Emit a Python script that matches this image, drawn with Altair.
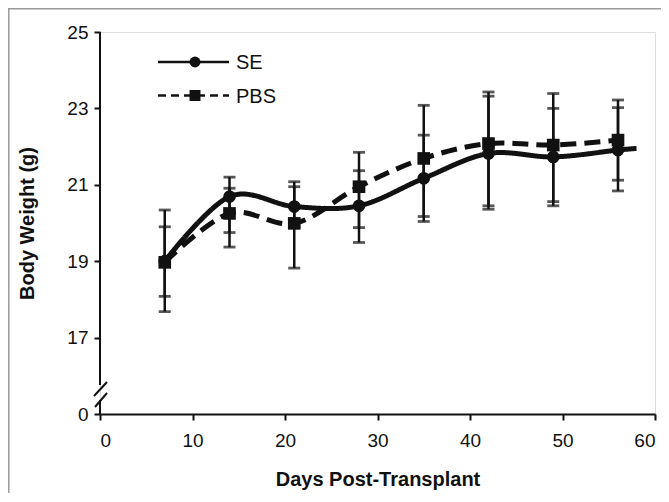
import altair as alt
import pandas as pd

# ---- data ----
days = [7, 14, 21, 28, 35, 42, 49, 56]
series = ["SE", "PBS"]
se_mean = [19.00, 20.69, 20.43, 20.45, 21.17, 21.82, 21.73, 21.91]
pbs_mean = [18.97, 20.25, 19.99, 20.95, 21.69, 22.08, 22.04, 22.17]
se_lo = [17.68, 19.75, 19.90, 19.49, 20.04, 20.36, 20.45, 20.84]
se_hi = [20.34, 21.20, 20.95, 21.37, 22.30, 23.32, 23.00, 23.02]
pbs_lo = [18.08, 19.37, 18.82, 19.88, 20.17, 20.45, 20.56, 21.12]
pbs_hi = [19.90, 20.91, 21.08, 21.85, 23.08, 23.43, 23.39, 23.22]
se_tail_day = [58]
se_tail_val = [21.95]
x_ticks = [0, 10, 20, 30, 40, 50, 60]
y_ticks = list(range(15, 26))  # 15 is the broken-axis "0"

INK = "#111111"
FONT = "Liberation Sans, Arial, sans-serif"

pts = pd.DataFrame({
    "day": days * 2,
    "series": ["SE"] * len(days) + ["PBS"] * len(days),
    "w": se_mean + pbs_mean,
    "lo": se_lo + pbs_lo,
    "hi": se_hi + pbs_hi,
})
line_df = pd.concat([
    pts[["day", "series", "w"]],
    pd.DataFrame({"day": se_tail_day, "series": ["SE"] * len(se_tail_day), "w": se_tail_val}),
], ignore_index=True)
caps = pd.concat([
    pts[["day", "series", "lo"]].rename(columns={"lo": "v"}),
    pts[["day", "series", "hi"]].rename(columns={"hi": "v"}),
], ignore_index=True)

xs = alt.Scale(domain=[0, 60], nice=False, zero=False)
ys = alt.Scale(domain=[15, 25], nice=False, zero=False)

x_axis = alt.Axis(values=x_ticks, title="Days Post-Transplant", grid=False,
                  domainColor=INK, domainWidth=2, tickColor=INK, tickWidth=2, tickSize=6,
                  labelFontSize=19, labelPadding=11, labelColor=INK, labelFont=FONT,
                  titleFontSize=20, titleFontWeight="bold", titlePadding=19,
                  titleColor=INK, titleFont=FONT)
y_axis = alt.Axis(values=y_ticks,
                  labelExpr="datum.value == 15 ? '0' : (datum.value % 2 == 1 ? datum.label : '')",
                  title="Body Weight (g)", grid=False, domain=False,
                  tickColor=INK, tickWidth=2, tickSize=6,
                  labelFontSize=19, labelPadding=6, labelColor=INK, labelFont=FONT,
                  titleFontSize=20, titleFontWeight="bold", titlePadding=29,
                  titleColor=INK, titleFont=FONT)

dash_scale = alt.Scale(domain=series, range=[[1, 0], [16, 8]])
shape_scale = alt.Scale(domain=series, range=["circle", "square"])

lines = alt.Chart(line_df).mark_line(interpolate="cardinal", strokeWidth=5, color=INK).encode(
    x=alt.X("day:Q", scale=xs, axis=x_axis),
    y=alt.Y("w:Q", scale=ys, axis=y_axis),
    strokeDash=alt.StrokeDash("series:N", scale=dash_scale, legend=None),
    detail="series:N",
)

err = alt.Chart(pts).mark_rule(strokeWidth=2.5, color=INK).encode(
    x=alt.X("day:Q", scale=xs), y=alt.Y("lo:Q", scale=ys), y2="hi:Q"
)
cap = alt.Chart(caps).mark_tick(orient="horizontal", size=12, thickness=2.8, color=INK).encode(
    x=alt.X("day:Q", scale=xs), y=alt.Y("v:Q", scale=ys)
)
marks = alt.Chart(pts).mark_point(filled=True, size=160, opacity=1, color=INK).encode(
    x=alt.X("day:Q", scale=xs), y=alt.Y("w:Q", scale=ys),
    shape=alt.Shape("series:N", scale=shape_scale, legend=None),
)

one = pd.DataFrame({"k": [0]})
# broken y axis line
axis_top = alt.Chart(one).mark_rule(color=INK, strokeWidth=2).encode(
    x=alt.value(0), y=alt.value(0), y2=alt.value(353))
axis_bot = alt.Chart(one).mark_rule(color=INK, strokeWidth=2).encode(
    x=alt.value(0), y=alt.value(368), y2=alt.value(382))
slash1 = alt.Chart(one).mark_rule(color=INK, strokeWidth=2).encode(
    x=alt.value(-6), x2=alt.value(7), y=alt.value(364), y2=alt.value(350))
slash2 = alt.Chart(one).mark_rule(color=INK, strokeWidth=2).encode(
    x=alt.value(-5), x2=alt.value(7), y=alt.value(375), y2=alt.value(361))

# frame of the figure
frame_top = alt.Chart(one).mark_rule(color="#9a9a9a", strokeWidth=1.5).encode(
    x=alt.value(-92), x2=alt.value(561), y=alt.value(-23.2))
frame_left = alt.Chart(one).mark_rule(color="#9a9a9a", strokeWidth=1.5).encode(
    x=alt.value(-91.2), y=alt.value(-24), y2=alt.value(462))

# legend
leg_se = pd.DataFrame({"label": [series[0]]})
leg_pbs = pd.DataFrame({"label": [series[1]]})
ly1, ly2 = 30, 63.5
leg = [
    alt.Chart(leg_se).mark_rule(color=INK, strokeWidth=2.5).encode(
        x=alt.value(58), x2=alt.value(129), y=alt.value(ly1)),
    alt.Chart(leg_se).mark_point(filled=True, shape="circle", size=120, opacity=1, color=INK).encode(
        x=alt.value(95), y=alt.value(ly1)),
    alt.Chart(leg_se).mark_text(align="left", baseline="middle", fontSize=20, font=FONT, color=INK).encode(
        x=alt.value(136), y=alt.value(ly1 + 1), text="label:N"),
    alt.Chart(leg_pbs).mark_rule(color=INK, strokeWidth=2.5, strokeDash=[8, 5]).encode(
        x=alt.value(58), x2=alt.value(129), y=alt.value(ly2)),
    alt.Chart(leg_pbs).mark_point(filled=True, shape="square", size=120, opacity=1, color=INK).encode(
        x=alt.value(95), y=alt.value(ly2)),
    alt.Chart(leg_pbs).mark_text(align="left", baseline="middle", fontSize=20, font=FONT, color=INK).encode(
        x=alt.value(136), y=alt.value(ly2 + 1), text="label:N"),
]

chart = alt.layer(
    frame_top, frame_left, lines, err, cap, marks,
    axis_top, axis_bot, slash1, slash2, *leg
).properties(
    width=555, height=382,
    autosize=alt.AutoSizeParams(type="none"),
    padding={"left": 92, "top": 24, "right": 6, "bottom": 79},
).configure_view(stroke=None).configure(font=FONT, background="white")

chart.save("out.html", embed_options={"renderer": "svg", "actions": False})
